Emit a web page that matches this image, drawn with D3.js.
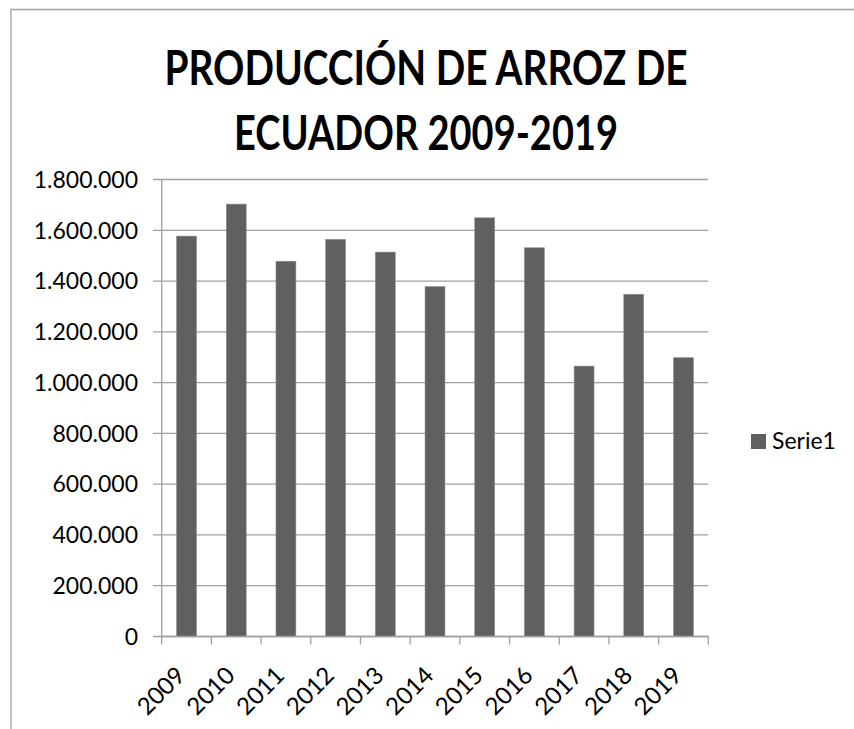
<!DOCTYPE html>
<html>
<head>
  <meta charset="utf-8">
  <title>Producción de arroz de Ecuador 2009-2019</title>
  <style>
    body { margin: 0; background: #fff; }
    text { font-family: Lato, "Open Sans", sans-serif; fill: #000; }
    .grid line, .tick-mark { stroke: #a0a0a0; stroke-width: 1.3px; }
    .bar { fill: #606060; stroke: #8a8a8a; stroke-width: 0.6px; }
  </style>
</head>
<body>
  <script src="https://d3js.org/d3.v7.min.js"></script>
  <svg width="854" height="729"></svg>
  <script>
    // data
    var years = ["2009", "2010", "2011", "2012", "2013", "2014", "2015", "2016", "2017", "2018", "2019"];
    var production = [1577000, 1703000, 1478000, 1564000, 1514000, 1378000, 1649000, 1531000, 1065000, 1348000, 1098000];
    var yTicks = [0, 200000, 400000, 600000, 800000, 1000000, 1200000, 1400000, 1600000, 1800000];
    var seriesName = "Serie1";
    var titleLines = ["PRODUCCIÓN DE ARROZ DE", "ECUADOR 2009-2019"];
    var titleWidths = [523, 384];

    var svg = d3.select("svg");

    var es = d3.formatLocale({ decimal: ",", thousands: ".", grouping: [3], currency: ["$", ""] });
    var fmt = es.format(",d");

    var x = d3.scaleBand().domain(years).range([161.7, 708.3]).padding(0);
    var y = d3.scaleLinear().domain([0, 1800000]).range([636.5, 179.5]);

    // chart border (top + left visible)
    svg.append("path")
        .attr("d", "M11,729V9.5H854")
        .attr("fill", "none")
        .attr("stroke", "#a0a0a0")
        .attr("stroke-width", 1.3);

    // title - calibri is narrow, so squeeze Lato to the same width
    svg.append("g").selectAll("text")
        .data(titleLines)
        .enter()
        .append("text")
        .attr("x", function(d, i) { return 426 - titleWidths[i] / 2; })
        .attr("y", function(d, i) { return 85 + i * 65; })
        .attr("textLength", function(d, i) { return titleWidths[i]; })
        .attr("lengthAdjust", "spacingAndGlyphs")
        .style("font-size", "48px")
        .style("font-weight", "bold")
        .text(function(d) { return d; });

    // gridlines + y ticks
    var grid = svg.append("g").attr("class", "grid");
    grid.selectAll("line")
        .data(yTicks)
        .enter()
        .append("line")
        .attr("x1", 153)
        .attr("x2", x.range()[1])
        .attr("y1", function(d) { return y(d); })
        .attr("y2", function(d) { return y(d); });

    svg.append("g").selectAll("text")
        .data(yTicks)
        .enter()
        .append("text")
        .attr("x", 138)
        .attr("y", function(d) { return y(d); })
        .attr("dy", "0.36em")
        .attr("text-anchor", "end")
        .style("font-size", "23px")
        .text(function(d) { return fmt(d); });

    // y axis line
    svg.append("line")
        .attr("class", "tick-mark")
        .attr("x1", x.range()[0]).attr("x2", x.range()[0])
        .attr("y1", y(1800000)).attr("y2", y(0));

    // bars
    var barW = x.bandwidth() * 0.4;
    svg.append("g").selectAll("rect")
        .data(years)
        .enter()
        .append("rect")
        .attr("class", "bar")
        .attr("x", function(d) { return x(d) + (x.bandwidth() - barW) / 2; })
        .attr("width", barW)
        .attr("y", function(d, i) { return y(production[i]); })
        .attr("height", function(d, i) { return y(0) - y(production[i]); });

    // x axis line and tick marks at band edges
    svg.append("line")
        .attr("class", "tick-mark")
        .attr("x1", x.range()[0]).attr("x2", x.range()[1])
        .attr("y1", y(0)).attr("y2", y(0));

    var edges = years.map(function(d) { return x(d); }).concat([x.range()[1]]);
    svg.append("g").selectAll("line")
        .data(edges)
        .enter()
        .append("line")
        .attr("class", "tick-mark")
        .attr("x1", function(d) { return d; }).attr("x2", function(d) { return d; })
        .attr("y1", y(0)).attr("y2", y(0) + 8);

    // rotated year labels
    svg.append("g").selectAll("text")
        .data(years)
        .enter()
        .append("text")
        .attr("text-anchor", "end")
        .attr("transform", function(d) {
          return "translate(" + (x(d) + x.bandwidth() / 2) + "," + 677 + ") rotate(-45)";
        })
        .style("font-size", "24px")
        .text(function(d) { return d; });

    // legend
    var legend = svg.append("g").attr("transform", "translate(751,434)");
    legend.append("rect")
        .attr("width", 15).attr("height", 15)
        .attr("fill", "#606060");
    legend.append("text")
        .attr("x", 21)
        .attr("y", 15)
        .style("font-size", "23px")
        .text(seriesName);
  </script>
</body>
</html>
